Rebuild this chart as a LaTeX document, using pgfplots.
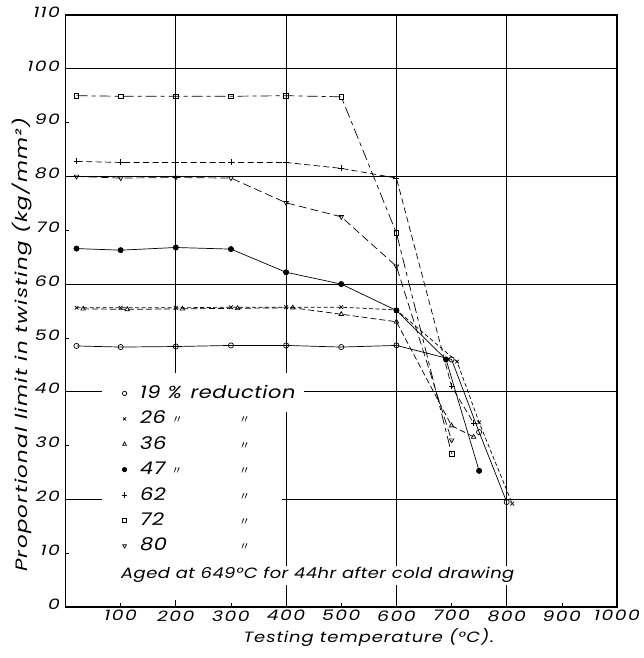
\documentclass[border=0pt]{standalone}
\usepackage{pgfplots}
\pgfplotsset{compat=1.18}
\usepackage{fontspec}
\setmainfont{Poppins}
\newfontfamily\cjk{Noto Sans CJK JP}
\newfontfamily\letfont[FakeStretch=1.2, LetterSpace=3]{Poppins}
\newfontfamily\xlabfont[FakeStretch=1.2, LetterSpace=6]{Poppins}
\newfontfamily\ylabfont[FakeStretch=1.3, LetterSpace=8]{Poppins}
\newfontfamily\tickfont[FakeStretch=1.3, LetterSpace=10]{Poppins}
\newcommand{\ditto}{{\cjk\fontsize{11}{11}\selectfont 〃}}
\begin{document}
\begin{tikzpicture}
\begin{axis}[
  name=main,
  scale only axis, width=551.5bp, height=592bp,
  xmin=0, xmax=1000, ymin=0, ymax=110,
  clip=false,
  axis line style={line width=1.5bp},
  xtick={100,200,...,1000}, ytick={0,10,...,110},
  tick pos=left, tick align=inside, major tick length=4bp,
  tick style={line width=0.7bp, black},
  extra x ticks={200,400,600,800}, extra x tick labels={},
  extra x tick style={grid=major, major tick length=0pt},
  extra y ticks={20,40,60,80,100}, extra y tick labels={},
  extra y tick style={grid=major, major tick length=0pt},
  grid style={line width=0.7bp, black},
  /pgf/number format/assume math mode=true,
  /pgf/number format/1000 sep={},
  tick label style={font=\itshape\tickfont\fontsize{14.5}{14.5}\selectfont},
  yticklabel style={yshift=3bp, xshift=-2bp},
  every axis plot/.append style={line width=0.7bp, black, mark size=2.6bp},
  legend style={at={(axis description cs:0.102,0.378)}, anchor=north west,
    draw=none, fill=none, row sep=5.4bp, inner sep=0pt,
    font=\itshape\letfont\fontsize{17.5}{17.5}\selectfont,
    nodes={inner sep=1bp, text height=14bp, text depth=4bp}},
  legend cell align=left,
]
% data
\addplot[solid, mark=o, forget plot] coordinates {(20,48.5)(100,48.3)(200,48.4)(300,48.6)(400,48.6)(500,48.3)(600,48.6)(700,46)(750,32.5)(800,19.5)};
\addplot[dash pattern=on 4bp off 2.5bp, mark=x, mark options={solid}, forget plot] coordinates {(20,55.6)(100,55.6)(200,55.6)(300,55.7)(400,55.7)(500,55.7)(600,55.2)(710,45.6)(750,34.3)(810,19.2)};
\addplot[dash pattern=on 6bp off 3bp, mark=triangle, mark options={solid}, forget plot] coordinates {(32,55.4)(112,55.3)(212,55.4)(312,55.5)(412,55.6)(500,54.4)(600,53)(700,33.7)(740,31.6)};
\addplot[solid, mark=*, mark size=2.6bp, forget plot] coordinates {(20,66.6)(100,66.3)(200,66.8)(300,66.5)(400,62.2)(500,60)(600,55.1)(690,46)(750,25.3)};
\addplot[dash pattern=on 6bp off 3.5bp, mark=+, mark size=3bp, mark options={solid}, forget plot] coordinates {(20,82.8)(100,82.6)(200,82.6)(300,82.6)(400,82.6)(500,81.5)(600,79.7)(700,41)(740,34.2)};
\addplot[dash pattern=on 11bp off 4bp on 4bp off 4bp, mark=square, mark size=2.3bp, mark options={solid}, forget plot] coordinates {(20,95)(100,94.9)(200,94.9)(300,94.9)(400,95)(500,94.8)(600,69.5)(700,28.5)};
\addplot[dash pattern=on 8bp off 4bp, mark=triangle, mark options={solid, rotate=180}, forget plot] coordinates {(20,80)(100,79.7)(200,79.8)(300,79.7)(400,75.1)(500,72.5)(600,63.3)(700,31)};
% white areas behind legend and note
\fill[white] (axis cs:67,1.3) rectangle (axis cs:392,43.5);
\fill[white] (axis cs:81,36.3) rectangle (axis cs:432,43.5);
\node[fill=white, inner sep=2bp, anchor=west, font=\itshape\letfont\fontsize{15}{15}\selectfont] at (axis cs:97,5.9) {Aged at 649°C for 44hr after cold drawing};
\node[rotate=90, font=\itshape\ylabfont\fontsize{16.5}{16.5}\selectfont] at (rel axis cs:0,0.4426) [yshift=43.5bp] {Proportional limit in twisting (kg/mm²)};
\node[font=\itshape\xlabfont\fontsize{15}{15}\selectfont] at (rel axis cs:0.55,0) [yshift=-31bp] {Testing temperature (°C).};
% legend
\addlegendimage{only marks, mark=o, mark size=2.2bp}
\addlegendentry{\hspace{12bp}19\hspace{7bp}\%\hspace{9bp}reduction}
\addlegendimage{only marks, mark=x, mark size=2.2bp}
\addlegendentry{\hspace{12bp}\makebox[99bp][l]{26\hspace{6bp}\ditto}\ditto}
\addlegendimage{only marks, mark=triangle, mark size=2.2bp}
\addlegendentry{\hspace{12bp}\makebox[99bp][l]{36}\ditto}
\addlegendimage{only marks, mark=*, mark size=2.2bp}
\addlegendentry{\hspace{12bp}\makebox[99bp][l]{47\hspace{6bp}\ditto}\ditto}
\addlegendimage{only marks, mark=+, mark size=2.6bp}
\addlegendentry{\hspace{12bp}\makebox[99bp][l]{62}\ditto}
\addlegendimage{only marks, mark=square, mark size=2bp}
\addlegendentry{\hspace{12bp}\makebox[99bp][l]{72}\ditto}
\addlegendimage{only marks, mark=triangle, mark size=2.2bp, mark options={rotate=180}}
\addlegendentry{\hspace{12bp}\makebox[99bp][l]{80}\ditto}
\end{axis}
\path (main.south west) ++(-65.5bp,-51bp);
\path (main.north east) ++(25bp,15bp);
\end{tikzpicture}
\end{document}
